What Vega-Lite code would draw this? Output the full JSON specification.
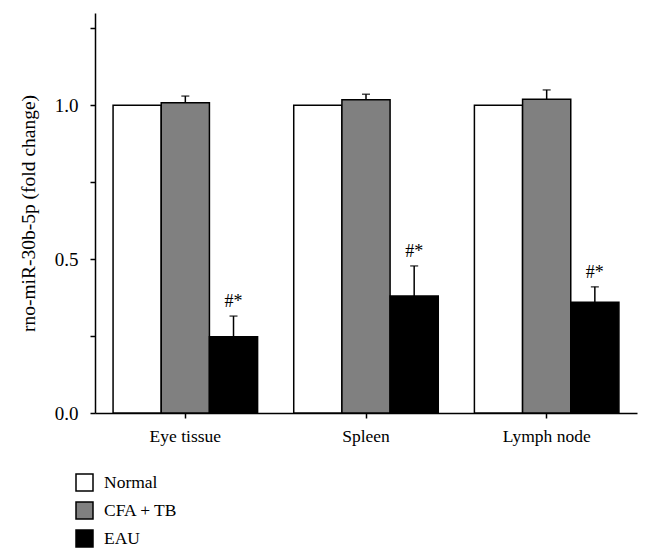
{
  "$schema": "https://vega.github.io/schema/vega-lite/v6.json",
  "width": 542,
  "height": 400,
  "autosize": "none",
  "padding": {"left": 95, "top": 13, "right": 15, "bottom": 146},
  "background": "white",
  "config": {
    "view": {"stroke": null},
    "font": "Liberation Serif",
    "axis": {"domainColor": "black", "tickColor": "black", "labelColor": "black", "titleColor": "black", "grid": false, "labelFont": "Liberation Serif", "titleFont": "Liberation Serif", "domainWidth": 1.5, "tickWidth": 1.5}
  },
  "data": {
    "values": [
      {"tissue": "Eye tissue", "group": "Normal", "mean": 1.0, "upper": null, "label": ""},
      {"tissue": "Eye tissue", "group": "CFA + TB", "mean": 1.008, "upper": 1.03, "label": ""},
      {"tissue": "Eye tissue", "group": "EAU", "mean": 0.248, "upper": 0.315, "label": "#*"},
      {"tissue": "Spleen", "group": "Normal", "mean": 1.0, "upper": null, "label": ""},
      {"tissue": "Spleen", "group": "CFA + TB", "mean": 1.018, "upper": 1.036, "label": ""},
      {"tissue": "Spleen", "group": "EAU", "mean": 0.38, "upper": 0.478, "label": "#*"},
      {"tissue": "Lymph node", "group": "Normal", "mean": 1.0, "upper": null, "label": ""},
      {"tissue": "Lymph node", "group": "CFA + TB", "mean": 1.02, "upper": 1.05, "label": ""},
      {"tissue": "Lymph node", "group": "EAU", "mean": 0.36, "upper": 0.41, "label": "#*"}
    ]
  },
  "encoding": {
    "x": {
      "field": "tissue", "type": "nominal", "sort": ["Eye tissue", "Spleen", "Lymph node"],
      "scale": {"paddingInner": 0.2, "paddingOuter": 0.1},
      "axis": {"title": null, "labelAngle": 0, "labelFontSize": 17.5, "tickSize": 5, "labelPadding": 9}
    },
    "xOffset": {"field": "group", "type": "nominal", "sort": ["Normal", "CFA + TB", "EAU"]}
  },
  "layer": [
    {
      "mark": {"type": "bar", "stroke": "black", "strokeWidth": 1.5},
      "encoding": {
        "y": {
          "field": "mean", "type": "quantitative",
          "scale": {"domain": [0, 1.3], "nice": false},
          "axis": {
            "title": "rno-miR-30b-5p (fold change)", "titleFontSize": 19.5, "titleFontWeight": "normal", "titlePadding": 16,
            "values": [0, 0.25, 0.5, 0.75, 1.0, 1.25],
            "labelExpr": "(datum.value * 4) % 2 == 0 ? format(datum.value, '.1f') : ''",
            "labelFontSize": 19, "tickSize": 5, "labelPadding": 12
          }
        },
        "fill": {
          "field": "group", "type": "nominal", "sort": ["Normal", "CFA + TB", "EAU"],
          "scale": {"domain": ["Normal", "CFA + TB", "EAU"], "range": ["#ffffff", "#808080", "#000000"]},
          "legend": {
            "title": null, "orient": "none", "legendX": -20, "legendY": 460,
            "direction": "vertical", "symbolType": "square", "symbolSize": 289,
            "symbolStrokeColor": "black", "symbolStrokeWidth": 1.5,
            "labelFont": "Liberation Serif", "labelFontSize": 17.5, "labelColor": "black",
            "rowPadding": 5, "labelOffset": 10
          }
        }
      }
    },
    {
      "transform": [{"filter": "datum.upper != null"}],
      "mark": {"type": "rule", "color": "black", "strokeWidth": 1.5},
      "encoding": {
        "y": {"field": "mean", "type": "quantitative"},
        "y2": {"field": "upper"}
      }
    },
    {
      "transform": [{"filter": "datum.upper != null"}],
      "mark": {"type": "tick", "color": "black", "size": 8, "thickness": 1.5},
      "encoding": {
        "y": {"field": "upper", "type": "quantitative"}
      }
    },
    {
      "transform": [{"filter": "datum.label != ''"}],
      "mark": {"type": "text", "fontSize": 18, "color": "black", "baseline": "middle", "dy": -14, "font": "Liberation Serif"},
      "encoding": {
        "y": {"field": "upper", "type": "quantitative"},
        "text": {"field": "label"}
      }
    }
  ]
}
